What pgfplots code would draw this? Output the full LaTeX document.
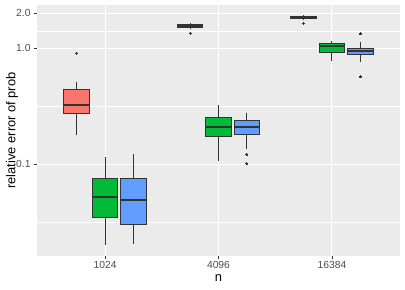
\documentclass[border=0pt]{standalone}
\usepackage{fontspec}
\setmainfont{Liberation Sans}
\usepackage{pgfplots}
\pgfplotsset{compat=1.18}
\usepgfplotslibrary{statistics}
\definecolor{cred}{HTML}{F8766D}
\definecolor{cgreen}{HTML}{00BA38}
\definecolor{cblue}{HTML}{619CFF}
\definecolor{g20}{HTML}{333333}
\definecolor{g30}{HTML}{4D4D4D}
\definecolor{panel}{HTML}{EBEBEB}
\begin{document}
\begin{tikzpicture}
\begin{axis}[
  name=ax,
  scale only axis, width=363bp, height=251bp,
  xmin=0.4, xmax=3.6, ymode=log, ymin=0.0162, ymax=2.36,
  axis background/.style={fill=panel},
  axis line style={draw=none},
  xtick={1,2,3}, xticklabels={1024,4096,16384},
  ytick={0.1,1,2}, yticklabels={0.1,1.0,2.0},
  minor ytick={0.0316,0.316,1.414},
  minor tick length=0pt,
  major tick length=3bp,
  tick align=outside, tick pos=left,
  tick style={g20, line width=0.6bp},
  grid=both,
  major grid style={white, line width=1.1bp},
  minor grid style={white, line width=0.55bp},
  ticklabel style={font=\fontsize{10.3bp}{12bp}\selectfont, text=g30},
  xticklabel style={yshift=1bp},
  /pgf/number format/assume math mode=true,
  xlabel={n}, ylabel={relative error of prob},
  label style={font=\fontsize{12.9bp}{15bp}\selectfont, text=black},
  x label style={at={(axis description cs:0.5,-0.0876)}, anchor=center},
  y label style={at={(axis description cs:-0.0689,0.5)}, anchor=center},
  boxplot/draw direction=y,
  boxplot/box extend=0.225,
  boxplot/whisker extend=0,
  boxplot/every median/.style={line width=2bp},
  every axis plot/.append style={draw=g20, line width=1bp},
  clip=false,
]
% n = 1024
\addplot[fill=cred, boxplot prepared={draw position=0.75, median=0.327, upper quartile=0.437, lower quartile=0.272, upper whisker=0.515, lower whisker=0.179}] coordinates {};
\addplot[fill=cgreen, boxplot prepared={draw position=1, median=0.0523, upper quartile=0.0751, lower quartile=0.0349, upper whisker=0.116, lower whisker=0.0201}] coordinates {};
\addplot[fill=cblue, boxplot prepared={draw position=1.25, median=0.0492, upper quartile=0.0751, lower quartile=0.030, upper whisker=0.123, lower whisker=0.0205}] coordinates {};
% n = 4096
\addplot[fill=cred, boxplot prepared={draw position=1.75, median=1.56, upper quartile=1.60, lower quartile=1.52, upper whisker=1.64, lower whisker=1.48}] coordinates {};
\addplot[fill=cgreen, boxplot prepared={draw position=2, median=0.211, upper quartile=0.252, lower quartile=0.174, upper whisker=0.325, lower whisker=0.107}] coordinates {};
\addplot[fill=cblue, boxplot prepared={draw position=2.25, median=0.208, upper quartile=0.239, lower quartile=0.182, upper whisker=0.279, lower whisker=0.136}] coordinates {};
% n = 16384
\addplot[fill=cred, boxplot prepared={draw position=2.75, median=1.85, upper quartile=1.89, lower quartile=1.81, upper whisker=1.93, lower whisker=1.74}] coordinates {};
\addplot[fill=cgreen, boxplot prepared={draw position=3, median=1.05, upper quartile=1.10, lower quartile=0.92, upper whisker=1.16, lower whisker=0.78}] coordinates {};
\addplot[fill=cblue, boxplot prepared={draw position=3.25, median=0.953, upper quartile=1.0, lower quartile=0.88, upper whisker=1.14, lower whisker=0.76}] coordinates {};
% outliers
\addplot[only marks, mark=*, mark size=1bp, draw=g20, fill=g20, line width=0pt] coordinates {
(0.75,0.905) (1.75,1.35) (2.25,0.122) (2.25,0.101) (2.75,1.64) (3.25,1.33) (3.25,0.566)};
\end{axis}
\pgfresetboundingbox
\path (ax.south west) ++(-37bp,-34bp) rectangle ([xshift=5bp,yshift=5bp]ax.north east);
\end{tikzpicture}
\end{document}
